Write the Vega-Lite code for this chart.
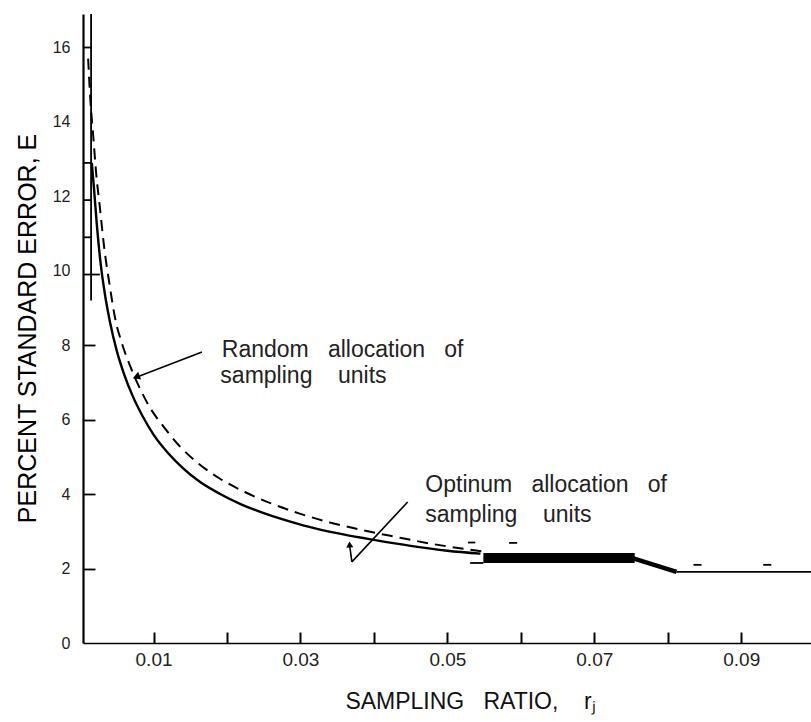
{
  "$schema": "https://vega.github.io/schema/vega-lite/v6.json",
  "width": 728,
  "height": 629,
  "autosize": "none",
  "padding": {"left": 83, "top": 14, "right": 0, "bottom": 79},
  "background": "white",
  "config": {
    "view": {"stroke": null},
    "font": "Liberation Sans, sans-serif"
  },
  "datasets": {
    "optimum": [
      {"r": 0.0016, "E": 12.9}, {"r": 0.0019, "E": 12.2}, {"r": 0.0023, "E": 11.2},
      {"r": 0.0028, "E": 10.2}, {"r": 0.0034, "E": 9.35}, {"r": 0.0041, "E": 8.6},
      {"r": 0.005, "E": 7.85}, {"r": 0.006, "E": 7.22}, {"r": 0.0072, "E": 6.62},
      {"r": 0.0085, "E": 6.1}, {"r": 0.01, "E": 5.6}, {"r": 0.012, "E": 5.1},
      {"r": 0.014, "E": 4.7}, {"r": 0.0163, "E": 4.33}, {"r": 0.019, "E": 4.01},
      {"r": 0.022, "E": 3.72}, {"r": 0.025, "E": 3.49}, {"r": 0.0285, "E": 3.27},
      {"r": 0.032, "E": 3.08}, {"r": 0.036, "E": 2.91}, {"r": 0.04, "E": 2.77},
      {"r": 0.045, "E": 2.61}, {"r": 0.05, "E": 2.48}, {"r": 0.0545, "E": 2.4}
    ],
    "random": [
      {"r": 0.0011, "E": 15.7}, {"r": 0.0014, "E": 14.6}, {"r": 0.0018, "E": 13.6},
      {"r": 0.0022, "E": 12.6}, {"r": 0.0027, "E": 11.7}, {"r": 0.0033, "E": 10.6},
      {"r": 0.004, "E": 9.65}, {"r": 0.0048, "E": 8.7}, {"r": 0.0057, "E": 8.05},
      {"r": 0.0068, "E": 7.45}, {"r": 0.008, "E": 6.9}, {"r": 0.0095, "E": 6.33},
      {"r": 0.0115, "E": 5.78}, {"r": 0.0135, "E": 5.3}, {"r": 0.016, "E": 4.84},
      {"r": 0.019, "E": 4.42}, {"r": 0.0225, "E": 4.05}, {"r": 0.026, "E": 3.75},
      {"r": 0.03, "E": 3.47}, {"r": 0.034, "E": 3.24}, {"r": 0.0385, "E": 3.03},
      {"r": 0.043, "E": 2.85}, {"r": 0.048, "E": 2.66}, {"r": 0.053, "E": 2.51},
      {"r": 0.0548, "E": 2.46}
    ],
    "fineSegments": [
      {"r": 0.0812, "E": 1.91, "r2": 0.0995, "E2": 1.91},
      {"r": 0.0531, "E": 2.15, "r2": 0.0549, "E2": 2.15},
      {"r": 0.0528, "E": 2.7, "r2": 0.0538, "E2": 2.7},
      {"r": 0.0584, "E": 2.69, "r2": 0.0595, "E2": 2.69},
      {"r": 0.0835, "E": 2.1, "r2": 0.0846, "E2": 2.1},
      {"r": 0.093, "E": 2.1, "r2": 0.0941, "E2": 2.1},
      {"r": 0.0015, "E": 9.2, "r2": 0.0015, "E2": 16.9},
      {"r": 0.0004, "E": 16.0, "r2": 0.0015, "E2": 16.0},
      {"r": 0.0004, "E": 12.9, "r2": 0.0015, "E2": 12.9},
      {"r": 0.0004, "E": 11.9, "r2": 0.0015, "E2": 11.9},
      {"r": 0.0004, "E": 10.9, "r2": 0.0015, "E2": 10.9},
      {"r": 0.0004, "E": 9.9, "r2": 0.0027, "E2": 9.9}
    ],
    "heavySegments": [
      {"r": 0.0752, "E": 2.28, "r2": 0.0812, "E2": 1.91}
    ],
    "blocks": [
      {"r": 0.0549, "E": 2.15, "r2": 0.0755, "E2": 2.42}
    ],
    "leaders": [
      {"r": 0.0166, "E": 7.82, "r2": 0.0074, "E2": 7.12},
      {"r": 0.0446, "E": 3.79, "r2": 0.037, "E2": 2.18},
      {"r": 0.037, "E": 2.18, "r2": 0.0367, "E2": 2.62}
    ],
    "notes": [
      {"r": 0.0193, "E": 7.68, "text": "Random\u00a0\u00a0\u00a0allocation\u00a0\u00a0\u00a0of"},
      {"r": 0.0191, "E": 6.99, "text": "sampling\u00a0\u00a0\u00a0\u00a0units"},
      {"r": 0.047, "E": 4.06, "text": "Optinum\u00a0\u00a0\u00a0allocation\u00a0\u00a0\u00a0of"},
      {"r": 0.047, "E": 3.25, "text": "sampling\u00a0\u00a0\u00a0\u00a0units"}
    ]
  },
  "layer": [
    {
      "data": {"name": "optimum"},
      "mark": {"type": "line", "color": "black", "strokeWidth": 2.4, "interpolate": "monotone"},
      "encoding": {
        "x": {
          "field": "r",
          "type": "quantitative",
          "scale": {"domain": [0.0004, 0.0995], "nice": false, "zero": false},
          "axis": {
            "title": "SAMPLING\u00a0\u00a0\u00a0RATIO,\u00a0\u00a0\u00a0 rⱼ",
            "values": [0.01, 0.02, 0.03, 0.04, 0.05, 0.06, 0.07, 0.08, 0.09],
            "labelExpr": "(round(datum.value * 100) % 2 == 1) ? format(datum.value, '.2f') : ''",
            "grid": false,
            "domainColor": "black",
            "domainWidth": 1.6,
            "tickColor": "black",
            "tickWidth": 2,
            "tickSize": -11,
            "labelFont": "Liberation Sans",
            "labelFontSize": 19,
            "labelColor": "#222",
            "labelPadding": 18,
            "labelFlush": false,
            "labelOverlap": false,
            "titleFont": "Liberation Sans",
            "titleFontSize": 23,
            "titleFontWeight": "normal",
            "titleColor": "#111",
            "titleX": 387,
            "titleY": 58,
            "titleAlign": "center",
            "titleBaseline": "middle"
          }
        },
        "y": {
          "field": "E",
          "type": "quantitative",
          "scale": {"domain": [0, 16.9], "nice": false},
          "axis": {
            "title": "PERCENT STANDARD ERROR, E",
            "values": [0, 1, 2, 3, 4, 5, 6, 7, 8, 9, 10, 11, 12, 13, 14, 15, 16],
            "labelExpr": "(datum.value % 2 == 0) ? format(datum.value, 'd') : ''",
            "grid": false,
            "domainColor": "black",
            "domainWidth": 2.2,
            "tickColor": "black",
            "tickWidth": 1.8,
            "tickSize": -12,
            "tickOpacity": {"condition": {"test": "datum.value >= 10 || datum.value == 0", "value": 0}, "value": 1},
            "labelFont": "Liberation Sans",
            "labelFontSize": 16,
            "labelColor": "#222",
            "labelPadding": 25,
            "labelFlush": false,
            "labelOverlap": false,
            "titleFont": "Liberation Sans",
            "titleFontSize": 25,
            "titleFontWeight": "normal",
            "titleColor": "#000",
            "titleX": -56,
            "titleY": 314,
            "titleAlign": "center",
            "titleBaseline": "middle",
            "titleAngle": -90
          }
        }
      }
    },
    {
      "data": {"name": "random"},
      "mark": {"type": "line", "color": "black", "strokeWidth": 2, "strokeDash": [11, 7], "interpolate": "monotone"},
      "encoding": {
        "x": {"field": "r", "type": "quantitative"},
        "y": {"field": "E", "type": "quantitative"}
      }
    },
    {
      "data": {"name": "fineSegments"},
      "mark": {"type": "rule", "color": "black", "strokeWidth": 1.8},
      "encoding": {
        "x": {"field": "r", "type": "quantitative"},
        "x2": {"field": "r2"},
        "y": {"field": "E", "type": "quantitative"},
        "y2": {"field": "E2"}
      }
    },
    {
      "data": {"name": "heavySegments"},
      "mark": {"type": "rule", "color": "black", "strokeWidth": 4.5},
      "encoding": {
        "x": {"field": "r", "type": "quantitative"},
        "x2": {"field": "r2"},
        "y": {"field": "E", "type": "quantitative"},
        "y2": {"field": "E2"}
      }
    },
    {
      "data": {"name": "blocks"},
      "mark": {"type": "rect", "color": "black"},
      "encoding": {
        "x": {"field": "r", "type": "quantitative"},
        "x2": {"field": "r2"},
        "y": {"field": "E", "type": "quantitative"},
        "y2": {"field": "E2"}
      }
    },
    {
      "data": {"name": "leaders"},
      "mark": {"type": "rule", "color": "black", "strokeWidth": 1.6},
      "encoding": {
        "x": {"field": "r", "type": "quantitative"},
        "x2": {"field": "r2"},
        "y": {"field": "E", "type": "quantitative"},
        "y2": {"field": "E2"}
      }
    },
    {
      "data": {"values": [{"r": 0.0078, "E": 7.16}]},
      "mark": {"type": "point", "shape": "triangle", "filled": true, "color": "black", "size": 70, "angle": 249, "opacity": 1},
      "encoding": {
        "x": {"field": "r", "type": "quantitative"},
        "y": {"field": "E", "type": "quantitative"}
      }
    },
    {
      "data": {"values": [{"r": 0.0367, "E": 2.62}]},
      "mark": {"type": "point", "shape": "triangle", "filled": true, "color": "black", "size": 50, "angle": -4, "opacity": 1},
      "encoding": {
        "x": {"field": "r", "type": "quantitative"},
        "y": {"field": "E", "type": "quantitative"}
      }
    },
    {
      "mark": {"type": "rule", "color": "black", "strokeWidth": 2},
      "encoding": {"y": {"datum": 16.9}}
    },
    {
      "data": {"name": "notes"},
      "mark": {"type": "text", "align": "left", "baseline": "alphabetic", "font": "Liberation Sans", "fontSize": 23, "color": "#222"},
      "encoding": {
        "x": {"field": "r", "type": "quantitative"},
        "y": {"field": "E", "type": "quantitative"},
        "text": {"field": "text"}
      }
    }
  ]
}
